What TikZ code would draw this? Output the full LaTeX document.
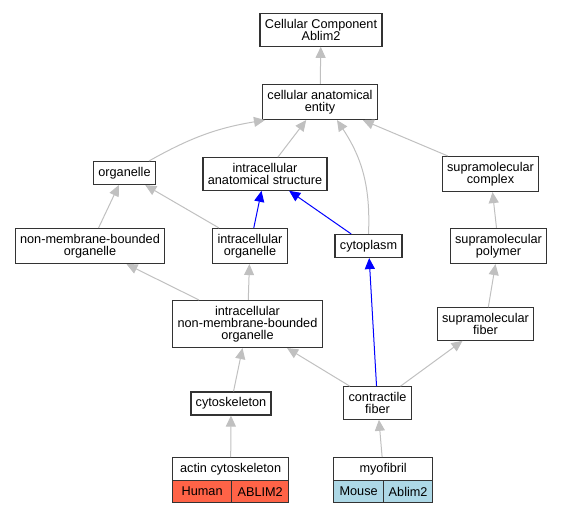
\documentclass[tikz,border=0pt]{standalone}
\usepackage{fontspec}
\setmainfont{Liberation Sans}
\usetikzlibrary{arrows.meta}
\definecolor{isagray}{HTML}{C0C0C0}
\definecolor{tomato}{HTML}{FF6347}
\definecolor{lightblue}{HTML}{ADD8E6}

\begin{document}
\begin{tikzpicture}[x=1pt,y=-1pt,>={Triangle[length=11pt,width=10pt]}]
  \tikzstyle{every node}=[font=\fontsize{12.7}{12}\selectfont]
  \tikzstyle{term}=[draw=black!80,line width=1.3pt,fill=white,align=center,inner xsep=4.8pt,inner ysep=5.5pt]
  \tikzstyle{cell}=[draw=black!80,line width=1.3pt,inner sep=0pt,anchor=north west,minimum height=22pt]
  \tikzstyle{isa}=[->,draw=isagray,line width=1pt]
  \tikzstyle{partof}=[->,draw=blue,line width=1pt]

  \useasboundingbox (0,0) rectangle (564,512);

  \node[term] (root)   at (321,30)    {Cellular Component\\Ablim2};
  \node[term] (cae)    at (320,102)   {cellular anatomical\\entity};
  \node[term] (org)    at (124.5,173) {organelle};
  \node[term] (ias)    at (265,174)   {intracellular\\anatomical structure};
  \node[term] (cplx)   at (490.5,174) {supramolecular\\complex};
  \node[term] (nmbo)   at (90,246)    {non-membrane-bounded\\organelle};
  \node[term] (io)     at (250,246)   {intracellular\\organelle};
  \node[term] (cyto)   at (368.5,246) {cytoplasm};
  \node[term] (poly)   at (498.5,246) {supramolecular\\polymer};
  \node[term] (inmbo)  at (247.5,324) {intracellular\\non-membrane-bounded\\organelle};
  \node[term] (sfib)   at (485.5,324) {supramolecular\\fiber};
  \node[term] (cytosk) at (231,403.5) {cytoskeleton};
  \node[term] (cfib)   at (377.5,403) {contractile\\fiber};

  % annotated terms
  \node[cell,minimum width=116pt,minimum height=23pt,fill=white] (actin) at (172,457) {actin cytoskeleton};
  \node[cell,minimum width=59pt,fill=tomato] (actinHs) at (172,480) {Human};
  \node[cell,minimum width=57pt,fill=tomato] (actinGene) at (231,480) {ABLIM2};
  \node[cell,minimum width=99pt,minimum height=23pt,fill=white] (myo) at (333,457) {myofibril};
  \node[cell,minimum width=50pt,fill=lightblue] (myoMm) at (333,480) {Mouse};
  \node[cell,minimum width=49pt,fill=lightblue] (myoGene) at (383,480) {Ablim2};

  \path (cae) edge[isa] (root)
        ([xshift=-7pt]org.north east) edge[isa,bend left=10] ([xshift=3pt]cae.south west)
        (ias) edge[isa] (cae)
        (cyto.north) edge[isa,bend right=18] ([xshift=17pt]cae.south)
        (cplx) edge[isa] (cae)
        (nmbo) edge[isa] (org)
        (io) edge[isa] (org)
        (io) edge[partof] (ias)
        (cyto) edge[partof] (ias)
        (poly) edge[isa] (cplx)
        (inmbo) edge[isa] (nmbo)
        (inmbo) edge[isa] (io)
        (sfib) edge[isa] (poly)
        (cytosk) edge[isa] (inmbo)
        (cfib) edge[isa] (inmbo)
        (cfib) edge[partof] (cyto)
        (cfib) edge[isa] (sfib)
        (actin) edge[isa] (cytosk)
        (myo) edge[isa] (cfib);
\end{tikzpicture}
\end{document}
